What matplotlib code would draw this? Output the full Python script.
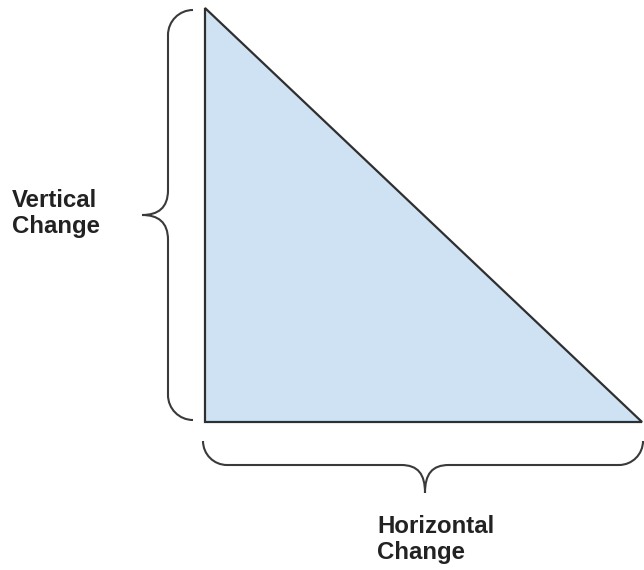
import matplotlib.pyplot as plt
from matplotlib.path import Path
from matplotlib.patches import Polygon, PathPatch

# diagram geometry in pixel units (y grows downward)
tri_x = [205, 205, 642]
tri_y = [8, 422, 422]
labels = ["Vertical\nChange", "Horizontal\nChange"]

K = 0.5523  # bezier circle constant

fig = plt.figure(figsize=(6.44, 5.7), dpi=100)
ax = fig.add_axes([0, 0, 1, 1])
ax.set_xlim(0, 644)
ax.set_ylim(570, 0)
ax.axis("off")

tri = Polygon(list(zip(tri_x, tri_y)), closed=True, facecolor="#cfe2f3",
              edgecolor="#2f2f2f", linewidth=1.6, joinstyle="miter")
ax.add_patch(tri)


def left_brace(xe, xl, xt, y0, y1, r):
    ym = (y0 + y1) / 2
    v = [(xe, y0),
         (xe - r * K, y0), (xl, y0 + r - r * K), (xl, y0 + r),
         (xl, ym - 25),
         (xl, ym - 7), (xl - 10, ym), (xt, ym),
         (xl - 10, ym), (xl, ym + 7), (xl, ym + 25),
         (xl, y1 - r),
         (xl, y1 - r + r * K), (xe - r * K, y1), (xe, y1)]
    c = [Path.MOVETO, Path.CURVE4, Path.CURVE4, Path.CURVE4, Path.LINETO,
         Path.CURVE4, Path.CURVE4, Path.CURVE4,
         Path.CURVE4, Path.CURVE4, Path.CURVE4, Path.LINETO,
         Path.CURVE4, Path.CURVE4, Path.CURVE4]
    return Path(v, c)


def bottom_brace(x0, x1, ye, yl, yt, r, xm):
    v = [(x0, ye),
         (x0, ye + r * K), (x0 + r - r * K, yl), (x0 + r, yl),
         (xm - 24, yl),
         (xm - 7, yl), (xm, yl + 9), (xm, yt),
         (xm, yl + 9), (xm + 7, yl), (xm + 24, yl),
         (x1 - r, yl),
         (x1 - r + r * K, yl), (x1, ye + r * K), (x1, ye)]
    c = [Path.MOVETO, Path.CURVE4, Path.CURVE4, Path.CURVE4, Path.LINETO,
         Path.CURVE4, Path.CURVE4, Path.CURVE4,
         Path.CURVE4, Path.CURVE4, Path.CURVE4, Path.LINETO,
         Path.CURVE4, Path.CURVE4, Path.CURVE4]
    return Path(v, c)


brace_style = dict(facecolor="none", edgecolor="#3a3a3a", linewidth=1.5)
ax.add_patch(PathPatch(left_brace(193, 168, 142, 10, 420, 25), **brace_style))
ax.add_patch(PathPatch(bottom_brace(203, 643, 441, 465, 493, 24, 425), **brace_style))

font = dict(family=["Liberation Sans", "DejaVu Sans"], fontsize=17.3,
            fontweight="bold", color="#222222", linespacing=1.17)
# baseline alignment of multi-line text uses the last line
ax.text(12, 233, labels[0], ha="left", va="baseline", **font)
ax.text(377, 559, labels[1], ha="left", va="baseline", **font)

fig.savefig("out.png", dpi=100)
